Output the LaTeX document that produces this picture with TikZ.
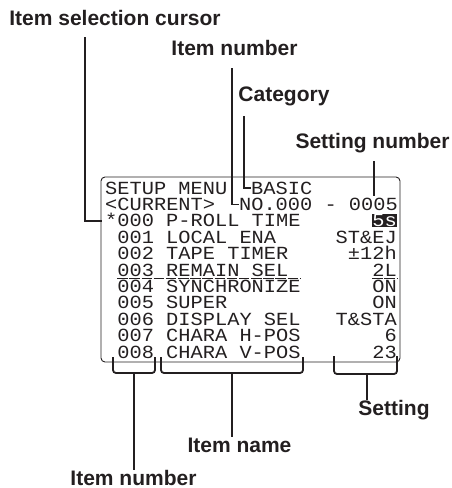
\documentclass[tikz,border=0pt]{standalone}
\usepackage{fontspec}
\setmainfont{Liberation Sans}
\newfontfamily\lcdfont[FakeStretch=1.1]{Liberation Mono}
\usetikzlibrary{positioning}
\definecolor{inkgray}{HTML}{231F20}
\tikzset{
	tagnode/.style={
			font=\bfseries\fontsize{21}{25}\selectfont,
			text=inkgray,
			inner sep=0pt
		},
	lcdnode/.style={
			font=\lcdfont\fontsize{18.5}{20}\selectfont,
			text=inkgray,
			text height=12pt,
			text depth=0pt,
			inner sep=0pt
		},
	leader/.style={
			draw=inkgray,
			line width=1.8pt
		},
	bracket/.style={
			draw=inkgray,
			line width=1.8pt,
			rounded corners=3pt
		},
	screenbox/.style={
			draw=inkgray,
			line width=0.9pt,
			rounded corners=4pt
		}
}

\begin{document}
\begin{tikzpicture}[x=1pt, y=-1pt]
\useasboundingbox (0,0) rectangle (452,488);

% screen
\draw[screenbox] (101,177) rectangle (400,362);

\node[lcdnode, anchor=base west] (menu) at (105,194) {SETUP MENU};
\node[lcdnode, anchor=base west] (cat) at (251,194) {BASIC};
\node[lcdnode, anchor=base west] (cur) at (105,210.4) {<CURRENT>};
\node[lcdnode, anchor=base west] (setno) at (238.9,210.4) {NO.000 - 0005};
\node[lcdnode, anchor=base west] (star) at (105,226.8) {*};
\node[lcdnode, anchor=base west] (item0) at (117.2,226.8) {000 P-ROLL TIME};
\node[lcdnode, anchor=base east, fill=inkgray, text=white, inner ysep=0.5pt] (val0) at (397,226.8) {5s};

\foreach \i/\txt/\val in {1/001 LOCAL ENA/ST\&EJ, 2/002 TAPE TIMER/±12h,
    3/003 REMAIN SEL/2L, 4/004 SYNCHRONIZE/ON, 5/005 SUPER/ON,
    6/006 DISPLAY SEL/T\&STA, 7/007 CHARA H-POS/6, 8/008 CHARA V-POS/23}{
  \node[lcdnode, anchor=base west] (item\i) at (117.2,226.8+16.4*\i) {\txt};
  \node[lcdnode, anchor=base east] (val\i) at (397,226.8+16.4*\i) {\val};
}

\draw[inkgray, line width=0.8pt, dash pattern=on 10.5pt off 1.67pt]
  ([yshift=1.8pt]item4.north west) -- ([yshift=1.8pt]item4.north east);
\draw[inkgray, line width=0.8pt, dash pattern=on 10.5pt off 1.67pt]
  ([yshift=1.8pt]val4.north west) -- ([yshift=1.8pt]val4.north east);

% top labels
\node[tagnode, anchor=base] (cursorlbl) at (115,25) {Item selection cursor};
\node[tagnode, anchor=base] (numtoplbl) at (234.5,55) {Item number};
\node[tagnode, anchor=base] (catlbl) at (284,101.5) {Category};
\node[tagnode, anchor=base] (setnolbl) at (372.5,148) {Setting number};

\coordinate (cursorstart) at (85,37);
\coordinate (cursortip) at (102,220.8);
\coordinate (numstart) at (232,68);
\coordinate (catstart) at (244,116);
\coordinate (setnostart) at (374,161);

\draw[leader] (cursorstart) |- (cursortip);
\draw[leader] (numstart) |- (setno.west);
\draw[leader] (catstart) |- (cat.west);
\draw[leader] (setnostart) -- ([yshift=2pt]setnostart |- setno.north);

% bottom brackets
\draw[bracket] (113,357) |- (134,373) coordinate (numfoot) -| (155,357);
\draw[bracket] (161,357) |- (232,373) coordinate (namefoot) -| (303,357);
\draw[bracket] (334,356) |- (367,374) coordinate (setfoot) -| (397,356);

\node[tagnode, anchor=base] (setlbl) at (394,415) {Setting};
\node[tagnode, anchor=base] (namelbl) at (239.5,452) {Item name};
\node[tagnode, anchor=base] (numlbl) at (133.5,485) {Item number};

\draw[leader] (numfoot) -- (numfoot |- numlbl.north);
\draw[leader] (namefoot) -- (namefoot |- namelbl.north);
\draw[leader] (setfoot) -- (setfoot |- setlbl.north);
\end{tikzpicture}
\end{document}
